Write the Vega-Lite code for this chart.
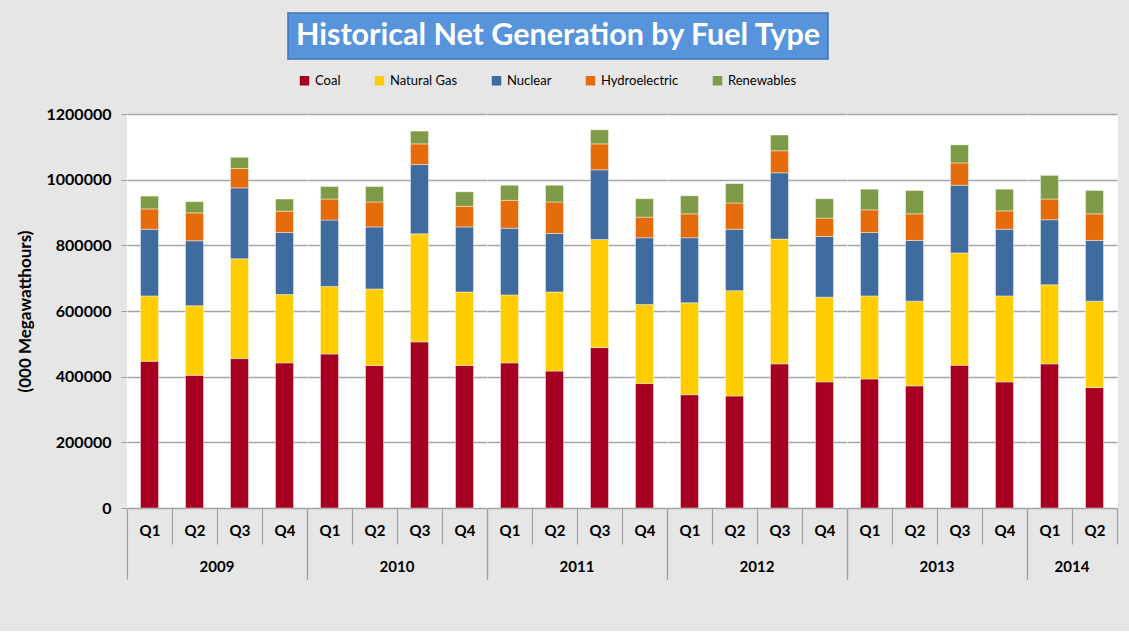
{
  "$schema": "https://vega.github.io/schema/vega-lite/v6.json",
  "background": "#e6e6e6",
  "padding": {"left": 16, "top": 12, "right": 11, "bottom": 50},
  "datasets": {
    "gen": [
      {"year": "2009", "q": "Q1", "Coal": 447000, "Natural Gas": 199000, "Nuclear": 203000, "Hydroelectric": 62000, "Renewables": 39000},
      {"year": "2009", "q": "Q2", "Coal": 404000, "Natural Gas": 212000, "Nuclear": 198000, "Hydroelectric": 85000, "Renewables": 34000},
      {"year": "2009", "q": "Q3", "Coal": 455000, "Natural Gas": 304000, "Nuclear": 216000, "Hydroelectric": 59000, "Renewables": 34000},
      {"year": "2009", "q": "Q4", "Coal": 442000, "Natural Gas": 208000, "Nuclear": 189000, "Hydroelectric": 65000, "Renewables": 37000},
      {"year": "2010", "q": "Q1", "Coal": 469000, "Natural Gas": 206000, "Nuclear": 202000, "Hydroelectric": 64000, "Renewables": 38000},
      {"year": "2010", "q": "Q2", "Coal": 434000, "Natural Gas": 233000, "Nuclear": 189000, "Hydroelectric": 76000, "Renewables": 47000},
      {"year": "2010", "q": "Q3", "Coal": 506000, "Natural Gas": 329000, "Nuclear": 211000, "Hydroelectric": 63000, "Renewables": 39000},
      {"year": "2010", "q": "Q4", "Coal": 434000, "Natural Gas": 224000, "Nuclear": 198000, "Hydroelectric": 63000, "Renewables": 44000},
      {"year": "2011", "q": "Q1", "Coal": 442000, "Natural Gas": 207000, "Nuclear": 203000, "Hydroelectric": 85000, "Renewables": 46000},
      {"year": "2011", "q": "Q2", "Coal": 417000, "Natural Gas": 241000, "Nuclear": 178000, "Hydroelectric": 96000, "Renewables": 51000},
      {"year": "2011", "q": "Q3", "Coal": 489000, "Natural Gas": 329000, "Nuclear": 212000, "Hydroelectric": 79000, "Renewables": 43000},
      {"year": "2011", "q": "Q4", "Coal": 379000, "Natural Gas": 241000, "Nuclear": 203000, "Hydroelectric": 63000, "Renewables": 56000},
      {"year": "2012", "q": "Q1", "Coal": 345000, "Natural Gas": 280000, "Nuclear": 198000, "Hydroelectric": 73000, "Renewables": 55000},
      {"year": "2012", "q": "Q2", "Coal": 341000, "Natural Gas": 321000, "Nuclear": 187000, "Hydroelectric": 80000, "Renewables": 59000},
      {"year": "2012", "q": "Q3", "Coal": 439000, "Natural Gas": 380000, "Nuclear": 202000, "Hydroelectric": 67000, "Renewables": 48000},
      {"year": "2012", "q": "Q4", "Coal": 384000, "Natural Gas": 258000, "Nuclear": 185000, "Hydroelectric": 56000, "Renewables": 59000},
      {"year": "2013", "q": "Q1", "Coal": 393000, "Natural Gas": 253000, "Nuclear": 193000, "Hydroelectric": 69000, "Renewables": 63000},
      {"year": "2013", "q": "Q2", "Coal": 372000, "Natural Gas": 258000, "Nuclear": 185000, "Hydroelectric": 81000, "Renewables": 71000},
      {"year": "2013", "q": "Q3", "Coal": 435000, "Natural Gas": 342000, "Nuclear": 206000, "Hydroelectric": 68000, "Renewables": 55000},
      {"year": "2013", "q": "Q4", "Coal": 384000, "Natural Gas": 262000, "Nuclear": 203000, "Hydroelectric": 56000, "Renewables": 66000},
      {"year": "2014", "q": "Q1", "Coal": 439000, "Natural Gas": 241000, "Nuclear": 198000, "Hydroelectric": 63000, "Renewables": 72000},
      {"year": "2014", "q": "Q2", "Coal": 367000, "Natural Gas": 263000, "Nuclear": 185000, "Hydroelectric": 81000, "Renewables": 71000}
    ],
    "fuels": [
      {"fuel": "Coal", "ord": 1},
      {"fuel": "Natural Gas", "ord": 2},
      {"fuel": "Nuclear", "ord": 3},
      {"fuel": "Hydroelectric", "ord": 4},
      {"fuel": "Renewables", "ord": 5}
    ],
    "titletext": [{"t": "Historical Net Generation by Fuel Type"}],
    "blank": [{"t": ""}]
  },
  "vconcat": [
    {
      "hconcat": [
        {
          "data": {"name": "blank"},
          "width": 140,
          "height": 46,
          "mark": {"type": "text"},
          "encoding": {"text": {"field": "t"}}
        },
        {
          "data": {"name": "titletext"},
          "width": 540,
          "height": 46,
          "view": {"fill": "#5894dc", "stroke": "#3f73b8", "strokeWidth": 1.5},
          "mark": {"type": "text", "font": "Lato", "fontSize": 30.5, "fontWeight": "bold", "color": "white", "align": "center", "baseline": "middle"},
          "encoding": {"text": {"field": "t"}}
        }
      ]
    },
    {
      "data": {"name": "gen"},
      "transform": [
        {"fold": ["Coal", "Natural Gas", "Nuclear", "Hydroelectric", "Renewables"], "as": ["fuel", "value"]},
        {"lookup": "fuel", "from": {"data": {"name": "fuels"}, "key": "fuel", "fields": ["ord"]}}
      ],
      "facet": {
        "column": {
          "field": "year", "type": "ordinal", "title": null,
          "header": {"labelOrient": "bottom", "labelFont": "Lato", "labelFontSize": 15, "labelFontWeight": "bold", "labelColor": "black", "labelPadding": 52}
        }
      },
      "spacing": 0,
      "bounds": "flush",
      "resolve": {"scale": {"x": "independent"}},
      "spec": {
        "width": {"step": 45},
        "height": 394,
        "view": {"fill": "white", "stroke": "white", "strokeWidth": 1},
        "mark": {"type": "bar", "width": {"band": 0.4}, "stroke": "white", "strokeWidth": 0.6, "strokeOpacity": 0.7},
        "encoding": {
          "x": {
            "field": "q", "type": "ordinal", "title": null,
            "scale": {"paddingInner": 0, "paddingOuter": 0},
            "axis": {
              "labelAngle": 0, "labelFont": "Lato", "labelFontSize": 15, "labelFontWeight": "bold", "labelColor": "black",
              "tickBand": "extent", "domainColor": "#a0a0a0", "tickColor": "#a0a0a0", "tickWidth": 1.2,
              "tickSize": {"condition": {"test": "datum.extra || datum.value === 'Q4'", "value": 71}, "value": 36},
              "labelPadding": {"condition": {"test": "datum.value === 'Q4'", "value": -56}, "value": -21}
            }
          },
          "y": {
            "field": "value", "type": "quantitative", "stack": "zero",
            "scale": {"domain": [0, 1200000]},
            "axis": {
              "title": "(000 Megawatthours)", "titleFont": "Lato", "titleFontSize": 17, "titleFontWeight": "bold", "titleColor": "black", "titlePadding": 12,
              "values": [0, 200000, 400000, 600000, 800000, 1000000, 1200000], "format": "d",
              "labelFont": "Lato", "labelFontSize": 16, "labelFontWeight": "bold", "labelColor": "black", "labelPadding": 10,
              "grid": true, "gridColor": "#a6a6a6", "gridWidth": 1.3,
              "domainColor": "#a0a0a0", "tickColor": "#a0a0a0", "tickSize": 6
            }
          },
          "color": {
            "field": "fuel", "type": "nominal",
            "scale": {"domain": ["Coal", "Natural Gas", "Nuclear", "Hydroelectric", "Renewables"], "range": ["#a50021", "#ffcc00", "#406b9e", "#e46c0a", "#7f9b48"]},
            "legend": {
              "title": null, "orient": "none", "direction": "horizontal", "legendX": 171, "legendY": -40,
              "symbolType": "square", "symbolSize": 90, "symbolStrokeWidth": 0, "symbolOpacity": 1,
              "labelFont": "Lato", "labelFontSize": 13, "labelColor": "black", "columnPadding": 32, "labelOffset": 4
            }
          },
          "order": {"field": "ord", "type": "quantitative", "sort": "ascending"}
        }
      }
    }
  ],
  "spacing": 14,
  "resolve": {"legend": {"color": "independent"}},
  "config": {"view": {"stroke": null}}
}
